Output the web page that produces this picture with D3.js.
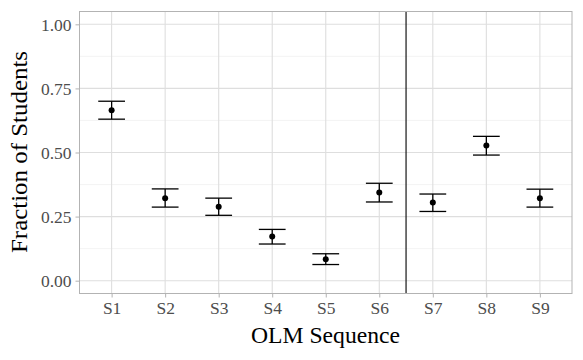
<!DOCTYPE html>
<html><head><meta charset="utf-8">
<script src="https://cdn.jsdelivr.net/npm/d3@7"></script>
<style>body{margin:0;background:#fff}svg{display:block}text{font-family:"Liberation Serif","DejaVu Serif",serif}</style>
</head><body><svg id="c" width="583" height="360"></svg>
<script>
const categories = ["S1","S2","S3","S4","S5","S6","S7","S8","S9"];
const values = [0.665,0.322,0.288,0.172,0.084,0.344,0.305,0.527,0.322];
const lower = [0.630,0.287,0.255,0.143,0.063,0.307,0.270,0.490,0.287];
const upper = [0.700,0.358,0.322,0.200,0.105,0.380,0.338,0.563,0.357];
const yTicks = [0,0.25,0.5,0.75,1.0];
const yMinor = [0.125,0.375,0.625,0.875];
const dividerAt = 6.5;

const svg = d3.select("#c");
const L=79.5,R=572,T=11.5,B=293.5;
const x = d3.scaleLinear().domain([0.4,9.6]).range([L,R]);
const y = d3.scaleLinear().domain([-0.05,1.05]).range([B,T]);
const g = svg.append("g");
g.selectAll(".ym").data(yMinor).join("line").attr("x1",L).attr("x2",R)
 .attr("y1",d=>y(d)).attr("y2",d=>y(d)).attr("stroke","#ededed").attr("stroke-width",0.6);
g.selectAll(".ymj").data(yTicks).join("line").attr("x1",L).attr("x2",R)
 .attr("y1",d=>y(d)).attr("y2",d=>y(d)).attr("stroke","#dedede").attr("stroke-width",1.1);
g.selectAll(".xmj").data(categories).join("line").attr("y1",T).attr("y2",B)
 .attr("x1",(d,i)=>x(i+1)).attr("x2",(d,i)=>x(i+1)).attr("stroke","#dedede").attr("stroke-width",1.1);
g.append("line").attr("x1",x(dividerAt)).attr("x2",x(dividerAt)).attr("y1",T).attr("y2",B)
 .attr("stroke","#000").attr("stroke-width",1.1);
const hw = 0.25;
categories.forEach((c,i)=>{
  const cx=x(i+1);
  g.append("line").attr("x1",cx).attr("x2",cx).attr("y1",y(lower[i])).attr("y2",y(upper[i])).attr("stroke","#000").attr("stroke-width",1.3);
  [lower[i],upper[i]].forEach(v=>g.append("line").attr("x1",x(i+1-hw)).attr("x2",x(i+1+hw)).attr("y1",y(v)).attr("y2",y(v)).attr("stroke","#000").attr("stroke-width",1.3));
  g.append("circle").attr("cx",cx).attr("cy",y(values[i])).attr("r",3).attr("fill","#000");
});
g.append("rect").attr("x",L).attr("y",T).attr("width",R-L).attr("height",B-T).attr("fill","none").attr("stroke","#b3b3b3").attr("stroke-width",1);
const ya = svg.append("g").attr("transform",`translate(${L},0)`).call(d3.axisLeft(y).tickValues(yTicks).tickFormat(d3.format(".2f")).tickSize(4).tickPadding(4));
const xs = d3.scalePoint().domain(categories).range([x(1),x(9)]);
const xa = svg.append("g").attr("transform",`translate(0,${B})`).call(d3.axisBottom(xs).tickSize(4).tickPadding(4));
[ya,xa].forEach(a=>{a.select(".domain").remove();a.attr("font-size",null).attr("font-family",null);a.selectAll(".tick line").attr("stroke","#b3b3b3");a.selectAll("text").attr("fill","#4d4d4d").style("font-size","17.5px");});
ya.selectAll("text").attr("dy","0.34em");
svg.append("text").attr("x",325.5).attr("y",343).attr("text-anchor","middle").style("font-size","22.5px")
 .attr("textLength",149).attr("lengthAdjust","spacingAndGlyphs").text("OLM Sequence");
svg.append("text").attr("transform","translate(27,152) rotate(-90)").attr("text-anchor","middle").style("font-size","22.5px")
 .attr("textLength",202).attr("lengthAdjust","spacingAndGlyphs").text("Fraction of Students");
</script></body></html>
